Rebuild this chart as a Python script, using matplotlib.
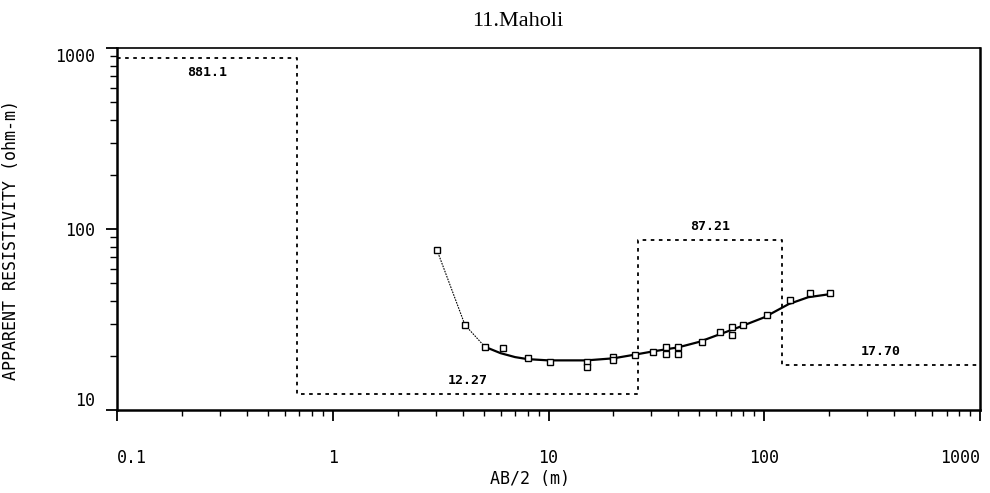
import numpy as np
import matplotlib
matplotlib.use("Agg")
import matplotlib.pyplot as plt

# layered model (interpreted): resistivities and layer boundaries (AB/2, m)
layer_rho = [881.1, 12.27, 87.21, 17.70]
layer_edges = [0.1, 0.68, 26.0, 121.0, 1000.0]

# observed apparent resistivity (field data)
obs_ab2 = [3.04, 4.10, 5.08, 6.15, 8.04, 10.2, 15.1, 15.1, 19.9, 19.9, 25.2,
           30.5, 35.0, 35.0, 40.0, 40.0, 51.4, 62.4, 70.9, 70.9, 79.7, 103.0,
           131.6, 163.0, 202.0]
obs_rho = [76.6, 29.5, 22.3, 22.0, 19.4, 18.4, 18.4, 17.3, 19.6, 18.8, 20.1,
           20.9, 22.3, 20.3, 22.3, 20.3, 23.8, 27.0, 28.7, 25.9, 29.5, 33.5,
           40.5, 44.3, 44.3]

# computed model response curve
fit_ab2 = [5.0, 6.0, 7.0, 8.0, 10.0, 15.0, 20.0, 25.0, 30.0, 40.0, 50.0,
           60.0, 70.0, 80.0, 100.0, 130.0, 160.0, 200.0]
fit_rho = [22.5, 20.6, 19.6, 19.1, 18.8, 18.8, 19.3, 20.2, 21.0, 22.2, 23.8,
           25.8, 27.6, 29.3, 32.5, 38.5, 42.0, 43.6]

mono = "DejaVu Sans Mono"

fig = plt.figure(figsize=(9.9, 4.93), dpi=100)
ax = fig.add_axes([117 / 990, 1 - 410 / 493, 863 / 990, 362 / 493])
ax.set_xscale("log")
ax.set_yscale("log")
ax.set_xlim(0.1, 1000)
ax.set_ylim(10, 1000)

# step model drawn as dotted boxes
xs = np.repeat(layer_edges, 2)[1:-1]
ys = np.repeat(layer_rho, 2)
ax.plot(xs, ys, color="black", lw=1.3, ls=(0, (2.0, 2.5)))
for i, rho in enumerate(layer_rho):
    xc = np.sqrt(layer_edges[i] * layer_edges[i + 1])
    if i == 0:
        ax.annotate(f"{rho:.1f}", (xc, rho), xytext=(0, -6), textcoords="offset points",
                    ha="center", va="top", fontsize=9.5, family=mono, weight="bold")
    else:
        ax.annotate(f"{rho:.2f}", (xc, rho), xytext=(0, 5), textcoords="offset points",
                    ha="center", va="bottom", fontsize=9.5, family=mono, weight="bold")

# thin line through the first field points, then fitted curve
ax.plot(obs_ab2[:3], obs_rho[:3], color="black", lw=0.8, ls=(0, (1.5, 1)))
ax.plot(fit_ab2, fit_rho, color="black", lw=1.6)
ax.plot(obs_ab2, obs_rho, ls="none", marker="s", ms=5, mfc="white",
        mec="black", mew=1.0)

# axes styling
for s in ["left", "bottom", "right"]:
    ax.spines[s].set_linewidth(1.8)
ax.spines["top"].set_linewidth(1.2)

ax.xaxis.set_minor_locator(matplotlib.ticker.LogLocator(base=10, subs=np.arange(2, 10), numticks=20))
ax.yaxis.set_minor_locator(matplotlib.ticker.LogLocator(base=10, subs=np.arange(2, 10), numticks=20))

xticks = [0.1, 1, 10, 100, 1000]
xlabels = ["0.1", "1", "10", "100", "1000"]
yticks = [10, 100, 1000]
ylabels = ["10", "100", "1000"]
ax.set_xticks(xticks)
ax.set_xticklabels(xlabels, family=mono, fontsize=12)
ax.set_yticks(yticks)
ax.set_yticklabels(ylabels, family=mono, fontsize=12)

ax.tick_params(axis="x", which="major", direction="out", length=8, width=1.3, pad=20)
ax.tick_params(axis="x", which="minor", direction="out", length=4, width=1.0)
ax.tick_params(axis="y", which="major", direction="out", length=8, width=1.3, pad=8)
ax.tick_params(axis="y", which="minor", direction="out", length=5, width=1.0)

xt = ax.get_xticklabels()
xt[0].set_ha("left")
xt[-1].set_ha("right")
yt = ax.get_yticklabels()
yt[0].set_va("bottom")
yt[-1].set_va("top")

ax.set_xlabel("AB/2 (m)", family=mono, fontsize=12)
ax.xaxis.set_label_coords(0.479, -0.165)
ax.set_ylabel("APPARENT RESISTIVITY (ohm-m)", family=mono, fontsize=12)
ax.yaxis.set_label_coords(-0.112, 0.47)

fig.text(518 / 990, 1 - 22 / 493, "11.Maholi", family="Liberation Serif",
         fontsize=16, ha="center", va="center")

fig.savefig("out.png", dpi=100)
